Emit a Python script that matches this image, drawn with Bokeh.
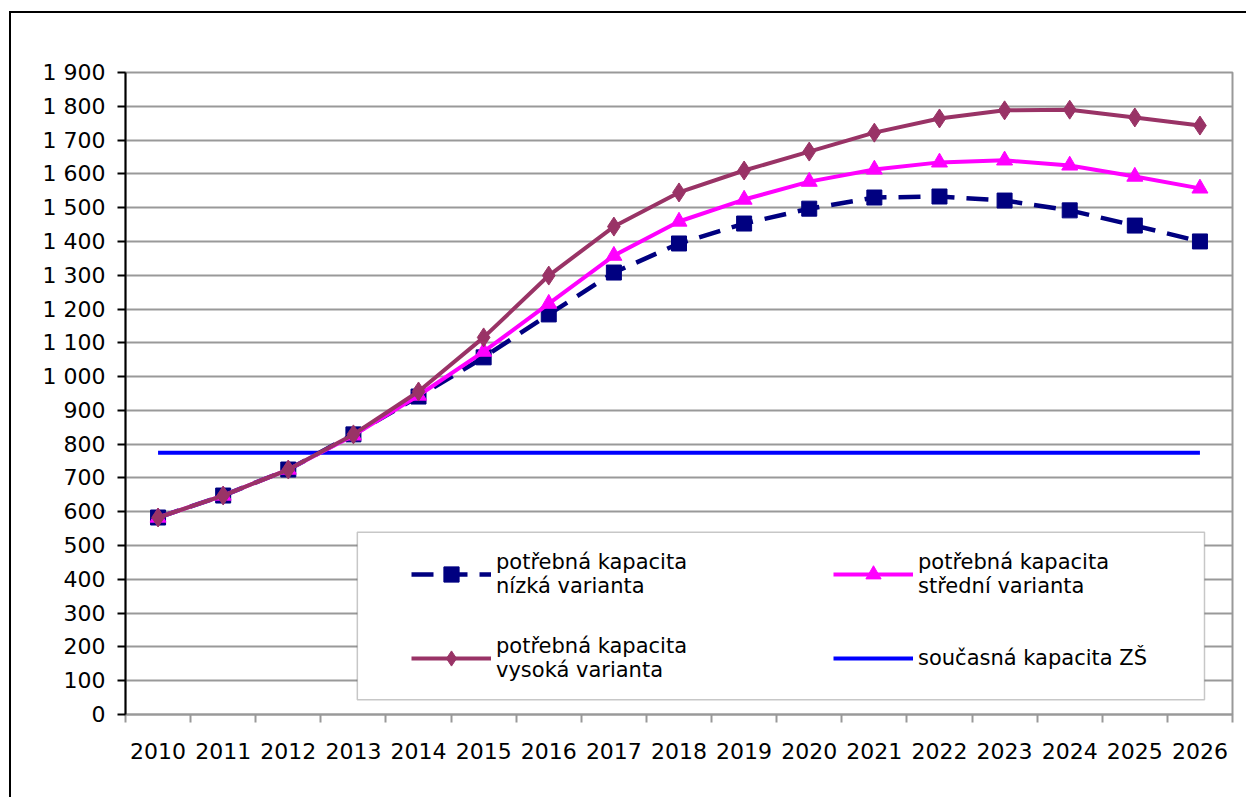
from bokeh.plotting import figure
from bokeh.models import Range1d, FixedTicker, Legend, LegendItem, BoxAnnotation
from bokeh.embed import file_html
from bokeh.resources import INLINE
import numpy as np

years = ["2010", "2011", "2012", "2013", "2014", "2015", "2016", "2017", "2018",
         "2019", "2020", "2021", "2022", "2023", "2024", "2025", "2026"]
low = [583, 648, 725, 829, 941, 1057, 1184, 1308, 1394, 1453, 1497, 1530, 1533, 1521, 1492, 1447, 1400]
mid = [583, 648, 725, 826, 944, 1074, 1216, 1358, 1459, 1524, 1577, 1613, 1634, 1640, 1625, 1592, 1557]
high = [583, 648, 725, 829, 956, 1116, 1299, 1444, 1545, 1610, 1666, 1722, 1764, 1788, 1790, 1767, 1743]
capacity = [775, 775, 775, 775, 775, 775, 775, 775, 775, 775, 775, 775, 775, 775, 775, 775, 775]
y_ticks = [0, 100, 200, 300, 400, 500, 600, 700, 800, 900, 1000, 1100, 1200, 1300, 1400, 1500, 1600, 1700, 1800, 1900]
y_tick_labels = ["0", "100", "200", "300", "400", "500", "600", "700", "800", "900", "1 000",
                 "1 100", "1 200", "1 300", "1 400", "1 500", "1 600", "1 700", "1 800", "1 900"]
labels = ["potřebná kapacita\nnízká varianta", "potřebná kapacita\nstřední varianta",
          "potřebná kapacita\nvysoká varianta", "současná kapacita ZŠ"]

FONT = "DejaVu Sans"
n = len(years)
xs = np.arange(n) + 0.5

p = figure(frame_width=1107, frame_height=642,
           min_border_left=114, min_border_right=14, min_border_top=59, min_border_bottom=83,
           x_range=Range1d(0, n), y_range=Range1d(0, 1900),
           output_backend="svg", toolbar_location=None,
           styles={"margin-left": "9px", "margin-top": "11px",
                   "border-left": "2px solid black", "border-top": "2px solid black"})

p.outline_line_color = "#999999"
p.outline_line_width = 2
p.xgrid.visible = False
p.ygrid.grid_line_color = "#999999"
p.ygrid.grid_line_width = 2
p.ygrid.ticker = FixedTicker(ticks=y_ticks)

# Y axis
p.yaxis.ticker = FixedTicker(ticks=y_ticks)
p.yaxis.major_label_overrides = {t: l for t, l in zip(y_ticks, y_tick_labels)}
p.yaxis.axis_line_color = "black"
p.yaxis.axis_line_width = 2
p.yaxis.major_tick_line_color = "black"
p.yaxis.major_tick_line_width = 2
p.yaxis.major_tick_out = 8
p.yaxis.major_tick_in = 0
p.yaxis.minor_tick_line_color = None
p.yaxis.major_label_standoff = 12
p.yaxis.major_label_text_font = FONT
p.yaxis.major_label_text_font_size = "22px"
p.yaxis.major_label_text_color = "black"

# X axis
p.xaxis.ticker = FixedTicker(ticks=list(xs), minor_ticks=list(range(n + 1)))
p.xaxis.major_label_overrides = {float(x): y for x, y in zip(xs, years)}
p.xaxis.axis_line_color = "#999999"
p.xaxis.axis_line_width = 2
p.xaxis.major_tick_line_color = None
p.xaxis.major_tick_out = 0
p.xaxis.major_tick_in = 0
p.xaxis.minor_tick_line_color = "#999999"
p.xaxis.minor_tick_line_width = 2
p.xaxis.minor_tick_out = 8
p.xaxis.minor_tick_in = 0
p.xaxis.major_label_standoff = 20
p.xaxis.major_label_text_font = FONT
p.xaxis.major_label_text_font_size = "22px"
p.xaxis.major_label_text_color = "black"

cap_r = p.line(xs, capacity, line_color="#0000FF", line_width=4)
low_l = p.line(xs, low, line_color="#000080", line_width=4.5, line_dash="22 12")
low_m = p.scatter(xs, low, marker="square", size=15, fill_color="#000080", line_color="#000080")
mid_l = p.line(xs, mid, line_color="#FF00FF", line_width=4)
mid_m = p.scatter(xs, mid, marker="triangle", size=16, fill_color="#FF00FF", line_color="#FF00FF")
high_l = p.line(xs, high, line_color="#993366", line_width=4)
high_m = p.scatter(xs, high, marker="diamond", size=19, fill_color="#993366", line_color="#993366")

box = BoxAnnotation(left=3.56, right=16.57, bottom=44, top=539,
                    fill_color="white", fill_alpha=1.0, line_color="#444444", line_width=1.5,
                    level="overlay")
p.add_layout(box)

legend = Legend(items=[
    LegendItem(label=labels[0], renderers=[low_l, low_m]),
    LegendItem(label=labels[2], renderers=[high_l, high_m]),
    LegendItem(label=labels[1], renderers=[mid_l, mid_m]),
    LegendItem(label=labels[3], renderers=[cap_r]),
], ncols=2, location=(286, 32), padding=0, margin=0,
    background_fill_alpha=0, border_line_alpha=0,
    glyph_width=80, glyph_height=38, label_standoff=5, label_width=301,
    spacing=36, label_text_font=FONT, label_text_font_size="21px",
    label_text_line_height=1.28,
    label_text_color="black", level="overlay")
p.add_layout(legend, "center")

open("out.html", "w").write(file_html(p, INLINE))
